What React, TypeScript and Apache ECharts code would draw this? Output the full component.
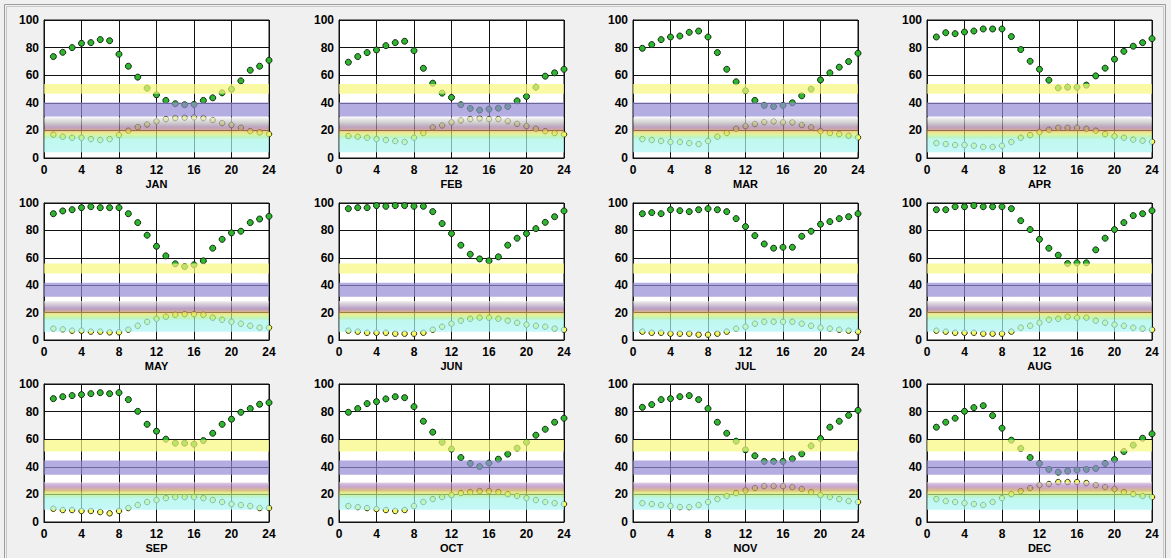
import React, { useEffect, useRef } from "react";
import * as echarts from "echarts";

// Monthly mean daily cycle: relative humidity (green) and temperature (yellow)
const MONTHS = ["JAN", "FEB", "MAR", "APR", "MAY", "JUN", "JUL", "AUG", "SEP", "OCT", "NOV", "DEC"];
const HOURS = [1, 2, 3, 4, 5, 6, 7, 8, 9, 10, 11, 12, 13, 14, 15, 16, 17, 18, 19, 20, 21, 22, 23, 24];
const X_TICKS = [0, 4, 8, 12, 16, 20, 24];
const Y_TICKS = [0, 20, 40, 60, 80, 100];

const RH_JAN = [73.5, 76.6, 80, 83.1, 83.6, 85.8, 85, 75.2, 66.5, 58.6, 50.6, 45.8, 41.7, 39.3, 38.6, 38.8, 41.7, 43.6, 47.2, 49.9, 55.9, 63.6, 66.5, 70.8];
const TEMP_JAN = [16.9, 15.4, 14.7, 14.7, 13.7, 13, 13.7, 16.6, 19.8, 22.4, 24.3, 26.5, 28.2, 28.9, 29.2, 29.4, 28.9, 27.5, 25.3, 23.9, 21.9, 19.5, 18.6, 17.3];
const RH_FEB = [69.4, 73.5, 76.4, 78.3, 81.4, 83.6, 84.6, 77.8, 65, 54.2, 47, 43.9, 38.6, 35.9, 34.7, 35.4, 36.1, 37.3, 41.4, 44.6, 51.3, 59.3, 61.7, 64.3];
const TEMP_FEB = [15.9, 15.4, 14.7, 13.7, 13, 12.3, 11.6, 14.7, 18.1, 22.2, 23.6, 25.8, 27.2, 28.2, 28.7, 28.2, 28.2, 26.7, 24.8, 23.1, 21.2, 19.5, 18.1, 17.1];
const RH_MAR = [79.5, 82.2, 85.8, 87.7, 88.4, 91.1, 92, 87.7, 76.4, 64.3, 55.2, 48.7, 41.7, 38.1, 37.3, 38.1, 40, 45.1, 49.9, 56.6, 61.7, 65.8, 69.9, 75.9];
const TEMP_MAR = [13.7, 13, 12.3, 11.6, 11.6, 10.8, 10.1, 12.3, 15.4, 18.1, 21.2, 23.1, 24.6, 26, 26.5, 25.8, 25.8, 23.9, 22.2, 19.5, 18.1, 17.3, 16.1, 14.9];
const RH_APR = [87.7, 90.8, 90.1, 91.3, 92, 93.5, 93.5, 93.5, 88, 78.6, 70.1, 64.3, 56.4, 50.8, 51.3, 51.3, 52.8, 59.5, 65.1, 71.6, 77.3, 81, 83.6, 86.5];
const TEMP_APR = [10.8, 10.1, 9.4, 9.4, 8.9, 8, 8, 8.9, 11.6, 14.7, 16.6, 18.8, 20.5, 21.9, 21.9, 21.9, 21.2, 19.8, 17.3, 15.7, 14.7, 13.3, 12.5, 11.8];
const RH_MAY = [92.2, 94.2, 95.1, 96.6, 97.3, 96.6, 96.6, 96.6, 92.2, 85.7, 76.5, 68.4, 61.4, 55.6, 53.6, 54.9, 57.8, 67, 73.5, 78.2, 79.4, 85.7, 88.3, 90.3];
const TEMP_MAY = [8.3, 7.8, 6.8, 6.8, 6.1, 6.1, 5.6, 5.6, 7.5, 10.4, 13.3, 15.5, 17, 18.4, 18.9, 18.9, 18.4, 16.3, 14.8, 13.3, 11.9, 10.4, 9, 9];
const RH_JUN = [95.9, 96.6, 96.6, 98.1, 97.6, 98.1, 98.1, 97.6, 97.6, 93.7, 85, 77.7, 69.2, 62.6, 59.2, 57.8, 60.7, 69.2, 74.3, 77.7, 81.3, 85.9, 90, 94.2];
const TEMP_JUN = [6.8, 6.1, 5.3, 5.3, 5.3, 4.6, 4.6, 4.6, 5.3, 7.5, 9.7, 11.9, 14.1, 15.5, 16.3, 16.3, 15.5, 14.1, 12.6, 11.2, 10.4, 9.7, 8.3, 7.5];
const RH_JUL = [92.2, 93, 92.2, 95.1, 94.4, 93.7, 95.1, 95.9, 95.1, 93.7, 88.6, 82.8, 76.2, 70.1, 67, 67.7, 67.7, 75.7, 79.4, 84.5, 86.4, 88.6, 90, 92.2];
const TEMP_JUL = [6.1, 5.3, 5.3, 4.6, 4.6, 4.6, 3.9, 3.9, 4.6, 6.1, 8.3, 9.7, 11.9, 13.3, 13.3, 13.3, 13.3, 11.9, 10.4, 9, 8.3, 7.5, 6.8, 6.1];
const RH_AUG = [95.1, 95.1, 97.3, 97.3, 98.1, 97.3, 97.3, 97.3, 95.9, 87.1, 80.6, 73.5, 67, 61.9, 55.8, 56.3, 56.3, 65.8, 74.3, 80.6, 85.7, 90.8, 92.2, 94.4];
const TEMP_AUG = [6.8, 6.1, 5.3, 5.3, 5.3, 4.6, 4.6, 4.6, 6.1, 9, 10.4, 12.6, 14.8, 15.5, 17, 16.3, 16.3, 14.1, 12.6, 11.2, 10.4, 9, 8.3, 7.5];
const RH_SEP = [89.4, 90.8, 91.6, 92.3, 93, 93.7, 93, 93.7, 88.7, 80.2, 70.8, 65.8, 60, 57.1, 57.1, 56.4, 59, 64.3, 70.8, 74.5, 79.5, 82.2, 85.3, 86.5];
const TEMP_SEP = [9.6, 8.7, 8.7, 8, 8, 7.2, 6.3, 8, 10.1, 12.3, 14.5, 15.9, 17.3, 18.1, 18.1, 18.1, 17.3, 15.9, 14.5, 13, 12.3, 11.6, 10.1, 10.1];
const RH_OCT = [79.5, 82.2, 85.8, 87.2, 89.2, 90.8, 90.1, 83.6, 73, 65.1, 57.8, 52.8, 46.7, 42.4, 40.2, 42.7, 45.5, 49.2, 53.5, 57.8, 62.9, 67.2, 72.3, 75.2];
const TEMP_OCT = [11.6, 10.8, 10.1, 9.4, 8.7, 8, 8.7, 11.6, 14.5, 16.6, 18.1, 19.5, 21, 21.7, 22.4, 22.4, 21.7, 20.2, 18.8, 17.3, 15.9, 14.5, 13.7, 13];
const RH_NOV = [83.1, 85.1, 88.7, 89.4, 90.8, 91.6, 88.7, 82.2, 72.3, 64.3, 58.6, 52.3, 48, 43.9, 43.9, 43.9, 45.8, 49.4, 55.2, 60.5, 68.7, 73, 77.3, 80.9];
const TEMP_NOV = [13.7, 13, 12.3, 11.6, 10.8, 10.8, 12.3, 14.5, 16.6, 18.8, 21, 22.9, 24.6, 26, 26, 26, 25.3, 23.9, 21.7, 19.5, 18.1, 16.6, 15.2, 14.5];
const RH_DEC = [68.7, 72.3, 75.2, 80.2, 82.9, 84.3, 77.1, 68, 59.3, 53.3, 46.7, 42.4, 38.1, 36.1, 36.9, 37.6, 38.1, 38.8, 42.4, 45.3, 51.1, 55.7, 60.7, 63.9];
const TEMP_DEC = [16.6, 15.2, 14.5, 13.7, 13, 12.3, 14.5, 17.3, 20.2, 22.4, 24.6, 26.7, 27.5, 28.9, 28.9, 28.9, 28.2, 26.7, 25.3, 23.9, 21.7, 20.2, 18.8, 18.1];

const RH = [RH_JAN, RH_FEB, RH_MAR, RH_APR, RH_MAY, RH_JUN, RH_JUL, RH_AUG, RH_SEP, RH_OCT, RH_NOV, RH_DEC];
const TEMP = [TEMP_JAN, TEMP_FEB, TEMP_MAR, TEMP_APR, TEMP_MAY, TEMP_JUN, TEMP_JUL, TEMP_AUG, TEMP_SEP, TEMP_OCT, TEMP_NOV, TEMP_DEC];

// Reference bands for each row of panels: [low, high]
const COMFORT_BAND = [[4.1, 29.5], [6.1, 28.5], [8.9, 28.8]];
const PURPLE_BAND = [[30.1, 40.2], [31.5, 41.7], [34.2, 44.6]];
const YELLOW_BAND = [[46.5, 53.7], [48.5, 55.8], [51.1, 59.5]];

// Colour ramp of the lower band, per row (value -> colour as seen over white)
const RAMP_STYLE: [number, string][][] = [
  [[29.5, "#f6f6f6"], [27.5, "#e2e2e2"], [25.5, "#cfcfcf"], [24, "#c4b8c4"], [22.5, "#bea4c0"], [21, "#c8a4ac"], [20, "#dcb090"], [18.8, "#f0e08c"], [17, "#dcf4a0"], [15, "#bcf4c4"], [13.3, "#c0f8ee"], [4.1, "#c4f8f8"]],
  [[28.5, "#f4f4f4"], [26.8, "#dcd6dc"], [24.6, "#c8b8d0"], [23.2, "#b8a2ca"], [21.9, "#c2a2b2"], [20.6, "#d8b090"], [19.2, "#f0e88e"], [17.6, "#d8f4a0"], [15.6, "#bcf4c2"], [14.4, "#c0f8ee"], [6.1, "#c4f8f8"]],
  [[28.8, "#f2ecf2"], [27.7, "#d4bcdc"], [25.8, "#c8a8d2"], [24.6, "#d0aab2"], [22.8, "#d8c088"], [21.4, "#e8e88e"], [19.6, "#ccf4a8"], [18.2, "#bcf4d0"], [17, "#c0f8ee"], [8.9, "#c4f8f8"]],
];
const PURPLE_STYLE = "#b4ade2";
const YELLOW_STYLE = "#fafaa4";
const BAND_ALPHA = 0.7;

// Panel layout
const COL_LEFT = [44, 339, 633, 927];
const ROW_TOP = [20, 203, 384];
const ROW_HEIGHT = [138, 137, 138];
const PLOT_WIDTH = 225;

const FONT = "'Liberation Sans', Arial, sans-serif";

// colour that, laid over white with the given opacity, shows as `hex`
function veil(hex: string, a: number): string {
  const n = parseInt(hex.slice(1), 16);
  const ch = [(n >> 16) & 255, (n >> 8) & 255, n & 255].map((t) =>
    Math.max(0, Math.min(255, Math.round(255 - (255 - t) / a)))
  );
  return `rgba(${ch[0]},${ch[1]},${ch[2]},${a})`;
}

function rampFill(row: number, lo: number, hi: number) {
  const stops = RAMP_STYLE[row].map(([v, c]) => ({
    offset: Math.max(0, Math.min(1, (hi - v) / (hi - lo))),
    color: veil(c, BAND_ALPHA),
  }));
  return new echarts.graphic.LinearGradient(0, 0, 0, 1, stops);
}

function buildOption() {
  const grid: any[] = [];
  const xAxis: any[] = [];
  const yAxis: any[] = [];
  const series: any[] = [];

  const labelStyle = {
    fontFamily: FONT,
    fontWeight: "bold",
    fontSize: 12,
    color: "#000",
  };
  const lineStyle = { color: "#111", width: 1 };

  MONTHS.forEach((month, i) => {
    const row = Math.floor(i / 4);
    const col = i % 4;
    grid.push({
      left: COL_LEFT[col],
      top: ROW_TOP[row],
      width: PLOT_WIDTH,
      height: ROW_HEIGHT[row],
      show: true,
      backgroundColor: "#ffffff",
      borderColor: "#111",
      borderWidth: 1,
    });
    xAxis.push({
      gridIndex: i,
      type: "value",
      min: X_TICKS[0],
      max: X_TICKS[X_TICKS.length - 1],
      interval: X_TICKS[1] - X_TICKS[0],
      axisLine: { show: true, onZero: false, lineStyle },
      axisTick: { show: false },
      splitLine: { show: true, lineStyle },
      axisLabel: { ...labelStyle, margin: 6 },
      name: month,
      nameLocation: "middle",
      nameGap: 20,
      nameTextStyle: { fontFamily: FONT, fontWeight: "bold", fontSize: 11, color: "#000" },
    });
    yAxis.push({
      gridIndex: i,
      type: "value",
      min: Y_TICKS[0],
      max: Y_TICKS[Y_TICKS.length - 1],
      interval: Y_TICKS[1] - Y_TICKS[0],
      axisLine: { show: true, onZero: false, lineStyle },
      axisTick: { show: false },
      splitLine: { show: true, lineStyle },
      axisLabel: { ...labelStyle, margin: 5 },
    });

    series.push({
      type: "scatter",
      name: "RH " + month,
      xAxisIndex: i,
      yAxisIndex: i,
      z: 2,
      symbolSize: 6,
      data: HOURS.map((h, k) => [h, RH[i][k]]),
      itemStyle: { color: "#2fb52f", borderColor: "#102a10", borderWidth: 1, opacity: 1 },
    });
    series.push({
      type: "scatter",
      name: "T " + month,
      xAxisIndex: i,
      yAxisIndex: i,
      z: 2,
      symbolSize: 5.5,
      data: HOURS.map((h, k) => [h, TEMP[i][k]]),
      itemStyle: { color: "#f8f860", borderColor: "#2c3612", borderWidth: 1, opacity: 1 },
    });

    const bands = [COMFORT_BAND[row], PURPLE_BAND[row], YELLOW_BAND[row]];
    series.push({
      type: "custom",
      name: "bands " + month,
      xAxisIndex: i,
      yAxisIndex: i,
      z: 4,
      silent: true,
      data: bands.map((b) => [b[0], b[1]]),
      renderItem: (params: any, api: any) => {
        const lo = api.value(0);
        const hi = api.value(1);
        const cs = params.coordSys;
        const top = api.coord([0, hi])[1];
        const bottom = api.coord([0, lo])[1];
        let fill: any;
        if (params.dataIndex === 0) fill = rampFill(row, lo, hi);
        else if (params.dataIndex === 1) fill = veil(PURPLE_STYLE, BAND_ALPHA);
        else fill = veil(YELLOW_STYLE, BAND_ALPHA);
        return {
          type: "rect",
          shape: { x: cs.x, y: top, width: cs.width, height: bottom - top },
          style: { fill },
        };
      },
    });
  });

  return {
    animation: false,
    backgroundColor: "#f0f0f0",
    grid,
    xAxis,
    yAxis,
    series,
    graphic: [
      {
        type: "rect",
        silent: true,
        shape: { x: 4.5, y: 4.5, width: 1161, height: 570 },
        style: { fill: "none", stroke: "#9c9c9c", lineWidth: 1 },
      },
      {
        type: "rect",
        silent: true,
        shape: { x: 6.5, y: 6.5, width: 1157, height: 570 },
        style: { fill: "none", stroke: "#c8c8c8", lineWidth: 1 },
      },
    ],
  };
}

export default function App() {
  const ref = useRef<HTMLDivElement>(null);
  useEffect(() => {
    if (!ref.current) return;
    const chart = echarts.init(ref.current, null, { renderer: "svg" });
    chart.setOption(buildOption() as any);
    return () => chart.dispose();
  }, []);
  return (
    <div
      ref={ref}
      style={{ position: "fixed", left: 0, top: 0, width: 1171, height: 558, background: "#f0f0f0" }}
    />
  );
}
